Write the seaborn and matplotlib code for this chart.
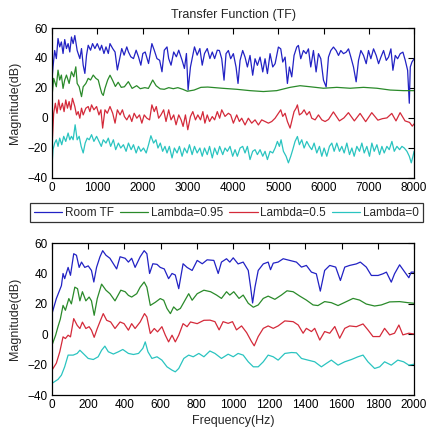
import numpy as np
import pandas as pd
import matplotlib
matplotlib.use("Agg")
import matplotlib.pyplot as plt
import seaborn as sns

# ---- data (frequency in Hz, magnitude in dB) ----
labels = ["Room TF", "Lambda=0.95", "Lambda=0.5", "Lambda=0"]

# top panel: 0 - 8000 Hz
top_room_f = [0, 22, 59, 96, 133, 170, 207, 244, 281, 319, 356, 393, 430, 467, 504, 556, 615, 652, 689, 726,
              763, 800, 852, 896, 948, 1000, 1059, 1096, 1148, 1193, 1244, 1281, 1341, 1393, 1444, 1489, 1541,
              1593, 1652, 1689, 1741, 1800, 1859, 1911, 1963, 2007, 2059, 2133, 2207, 2259, 2319, 2378, 2430,
              2481, 2541, 2578, 2630, 2689, 2748, 2800, 2874, 2926, 2970, 3007, 3059, 3096, 3148, 3207, 3267,
              3319, 3370, 3430, 3489, 3541, 3593, 3652, 3698, 3750, 3801, 3845, 3897, 3948, 4007, 4066, 4110,
              4155, 4213, 4265, 4317, 4375, 4434, 4486, 4538, 4597, 4656, 4707, 4759, 4818, 4877, 4929, 5002,
              5054, 5098, 5150, 5201, 5245, 5297, 5348, 5407, 5444, 5496, 5555, 5614, 5666, 5717, 5776, 5835,
              5887, 5939, 5998, 6057, 6108, 6160, 6219, 6278, 6330, 6381, 6440, 6499, 6551, 6603, 6661, 6720,
              6772, 6824, 6883, 6942, 6993, 7045, 7104, 7163, 7215, 7267, 7326, 7385, 7436, 7488, 7532, 7584,
              7636, 7694, 7753, 7805, 7857, 7894, 7916, 7953, 8000]
top_room_db = [25.3, 34, 45, 39.6, 53, 47.4, 50.7, 43, 52.3, 46.3, 49.6, 44, 54, 49.6, 55, 45, 39.6, 46.3, 35.2,
               29.7, 41.9, 48.5, 45.2, 49.6, 46.3, 49.6, 45.2, 48.5, 43, 47.4, 43, 49.6, 46.3, 44, 32, 38.5, 46.3,
               41.9, 47.4, 44, 40.8, 39.6, 45.2, 40.8, 35.2, 43, 44, 36.3, 49.6, 45.2, 39.6, 38.5, 30.8, 45.2,
               47.4, 39.6, 35.2, 44, 40.8, 45.2, 38.5, 33, 43, 18.6, 34, 39.6, 47.4, 41.9, 46.3, 35.2, 43, 46.3,
               39.6, 44, 39.6, 45.2, 45, 39.5, 25.2, 42.9, 45, 39.5, 42.9, 34, 23, 38.4, 45, 40.6, 34, 41.7, 28.5,
               39.5, 35.1, 40.6, 30.7, 39.5, 29.6, 42.9, 34, 36.2, 47.3, 46.1, 37.3, 40.6, 23, 34, 27.4, 41.7,
               47.3, 48.4, 39.5, 45, 42.9, 46.1, 34, 45, 30.7, 42.9, 39.5, 25.2, 20.7, 40.6, 45, 47.3, 45, 41.7,
               45, 42.9, 43.9, 46.1, 40.6, 34, 24.1, 38.4, 45, 41.7, 36.2, 45, 39.5, 46.1, 41.7, 36.2, 40.6, 45,
               38.4, 40.6, 46.1, 31.8, 41.7, 39.5, 42.9, 43.9, 38.4, 31.8, 9.8, 34, 37.3, 39.5]

top_l95_f = [0, 37, 96, 133, 170, 207, 244, 281, 319, 378, 430, 481, 526, 556, 600, 652, 689, 748, 800, 852,
             911, 970, 1022, 1059, 1100, 1133, 1170, 1230, 1282, 1340, 1400, 1462, 1530, 1600, 1687, 1770, 1870,
             1950, 2050, 2130, 2225, 2300, 2390, 2480, 2580, 2680, 2780, 2890, 2990, 3140, 3290, 3440, 3600,
             3757, 4081, 4375, 4670, 4965, 5260, 5481, 5702, 5998, 6292, 6587, 6883, 7178, 7473, 7768, 8000]
top_l95_db = [14.2, 26.4, 20.8, 31.9, 25.3, 28.6, 19.7, 25.3, 28.6, 23, 30.8, 27.5, 34.1, 23, 20.8, 14.2, 20.8,
              23, 26.4, 25.3, 28.6, 26.4, 25.3, 20.8, 16.4, 15, 19.7, 25.3, 28.5, 25, 21, 23.8, 20.4, 20.8, 24.2,
              19.7, 21.5, 19.5, 20.2, 19.7, 25.3, 21.5, 19.4, 19.1, 20.2, 19.5, 20.2, 19.1, 17.8, 18.6, 20.4,
              20.6, 20.2, 19.8, 19.1, 18.2, 17.6, 18.2, 20.4, 21.5, 20.8, 19.8, 20.4, 19.8, 20.4, 19.8, 18.6,
              18.2, 18.2]

top_l05_f = [0, 37, 74, 111, 148, 185, 230, 267, 304, 341, 378, 415, 452, 504, 541, 578, 615, 652, 689, 748,
             800, 837, 874, 926, 985, 1037, 1081, 1119, 1170, 1222, 1281, 1341, 1393, 1444, 1504, 1556, 1600,
             1652, 1711, 1763, 1815, 1874, 1933, 1985, 2037, 2096, 2156, 2207, 2259, 2304, 2356, 2407, 2467,
             2519, 2578, 2630, 2689, 2741, 2800, 2852, 2896, 2948, 3000, 3059, 3111, 3170, 3222, 3281, 3333,
             3378, 3430, 3481, 3541, 3593, 3652, 3704, 3750, 3823, 3897, 3948, 4007, 4081, 4140, 4191, 4265,
             4338, 4412, 4486, 4560, 4633, 4707, 4781, 4855, 4929, 5002, 5054, 5098, 5150, 5201, 5260, 5304,
             5348, 5393, 5422, 5466, 5518, 5570, 5629, 5688, 5739, 5813, 5887, 5961, 6034, 6110, 6217, 6350,
             6450, 6549, 6680, 6807, 6930, 7065, 7200, 7300, 7400, 7507, 7600, 7691, 7800, 7900, 7960, 8000]
top_l05_db = [-20, 3.1, 9.8, 3.1, 12, 5.4, 9.8, 4.2, 12, 6.5, 10.9, 5.4, 13.1, 7.6, 2, 4.2, -0.2, 6.5, 2, 6.5,
              7.6, 4.2, 8.7, 5.4, 7.6, 2, 5.4, -6.8, 5.4, 3.1, 7.6, 3.1, -3.5, 5.4, 2, 5.4, 0.9, -1.3, 2, -2.4,
              3.1, -0.2, 2, -3.5, 2, -0.2, -1.3, 8.7, 4.2, 7.6, -0.2, 2, 5.4, -2.4, 5.4, -1.3, 2, -4.6, 2, -1.3,
              -5.7, 2, -7.9, 0.9, 4.2, -1.3, 2, -1.3, 4.2, -3.5, 2, -2.4, 0.9, -1.3, 4.2, -0.2, 5.4, 1, 3.1, 2,
              -3.5, 2, -2.4, -0.2, -4.7, -0.2, -3.5, -1.3, -4.7, -1.3, -2.4, -3.5, -2.4, -0.2, 3.1, 5.4, 1, 3.1,
              -2.4, -6.8, -1.3, 4.2, 6.5, 8.7, 2, 3.1, 5.4, 2, 4.2, -0.2, -1.3, 2, -1.3, -2.4, -1, 4, -2, 0,
              3.5, -2, 3, -2.5, 3.5, -1.5, -0.5, 0, 3, -2, 3.5, -2, -3, -5.5, -4]

top_l0_f = [0, 22, 59, 96, 133, 170, 215, 259, 304, 356, 393, 430, 467, 511, 556, 600, 644, 689, 733, 778, 822,
            874, 926, 985, 1037, 1089, 1133, 1193, 1244, 1296, 1356, 1407, 1467, 1519, 1578, 1637, 1689, 1748,
            1800, 1859, 1911, 1963, 2022, 2081, 2133, 2185, 2244, 2296, 2341, 2393, 2444, 2496, 2541, 2593,
            2652, 2704, 2763, 2815, 2874, 2926, 2985, 3037, 3096, 3148, 3207, 3267, 3319, 3370, 3430, 3481,
            3541, 3593, 3652, 3704, 3772, 3823, 3875, 3933, 3992, 4044, 4095, 4155, 4213, 4265, 4317, 4375,
            4434, 4486, 4538, 4597, 4656, 4707, 4759, 4818, 4877, 4929, 4980, 5024, 5061, 5113, 5172, 5223,
            5275, 5319, 5370, 5422, 5466, 5518, 5570, 5629, 5688, 5739, 5791, 5850, 5909, 5961, 6012, 6071,
            6130, 6182, 6234, 6292, 6352, 6403, 6455, 6514, 6573, 6625, 6676, 6735, 6794, 6846, 6898, 6956,
            7015, 7067, 7119, 7178, 7237, 7289, 7340, 7399, 7451, 7510, 7562, 7621, 7680, 7731, 7783, 7842,
            7894, 7938, 7975, 8000]
top_l0_db = [-32.3, -21.2, -16.8, -14.6, -19, -13.5, -17.9, -12.3, -15.7, -10.1, -14.6, -12.3, -14.6, -4.6,
             -14.6, -12.3, -19, -23.4, -16.8, -13.5, -14.6, -11.2, -15.7, -12.3, -15.7, -19, -14.6, -16.8,
             -13.5, -19, -14.6, -21.2, -16.8, -20.1, -17.9, -22.3, -16.8, -21.2, -17.9, -23.4, -19, -22.3,
             -20.1, -23.4, -17.9, -11.9, -16.8, -14.6, -20.1, -16.8, -22.3, -19, -23.4, -19, -26.7, -20.1,
             -23.4, -19, -25.6, -20.1, -23.4, -17.9, -24.5, -19, -23.4, -20.1, -25.6, -20.1, -24.5, -19, -26.7,
             -20.1, -24.5, -19, -24.5, -20.1, -22.3, -19, -25.6, -21.2, -25.6, -20.1, -19, -23.4, -19, -27.8,
             -22.3, -21.2, -24.5, -21.2, -25.6, -22.3, -27.8, -22.3, -23.4, -20.1, -15.7, -19, -14.6, -22.3,
             -25.6, -30, -25.6, -21.2, -15.7, -12.4, -17.9, -14.6, -20.1, -15.7, -19, -21.2, -16.8, -23.4, -19,
             -25.6, -20.1, -25.6, -19, -16.8, -22.3, -16.8, -22.3, -19, -23.4, -16.8, -24.5, -20.1, -25.6, -19,
             -22.3, -16.8, -23.4, -19, -25.6, -16.8, -22.3, -17.9, -24.5, -19, -23.4, -19, -21.2, -15.7, -22.3,
             -19, -21.2, -19, -20.1, -22.3, -25.6, -30, -25.6, -22.3]

# bottom panel: 0 - 2000 Hz
bot_room_f = [0, 24, 52, 61, 70, 89, 102, 120, 135, 150, 163, 181, 200, 218, 231, 246, 265, 280, 298, 320, 339,
              357, 376, 404, 422, 440, 459, 487, 509, 524, 539, 557, 580, 598, 620, 644, 663, 681, 700, 724,
              746, 774, 802, 830, 857, 894, 918, 936, 964, 982, 1001, 1028, 1056, 1084, 1097, 1108, 1121, 1139,
              1167, 1194, 1207, 1222, 1249, 1277, 1313, 1350, 1378, 1405, 1433, 1460, 1482, 1506, 1534, 1567,
              1593, 1617, 1644, 1681, 1703, 1736, 1764, 1801, 1828, 1847, 1874, 1892, 1920, 1942, 1971, 1984,
              2000]
bot_room_db = [13.6, 23.5, 32, 40, 36.6, 44, 38.8, 53, 52, 44, 47.5, 44, 45, 42, 34.4, 44, 51, 55, 52, 50, 46.4,
               43, 51, 50, 47.5, 50, 44, 51, 55, 53, 40, 46.4, 46, 44, 43, 36.6, 40, 39, 30, 46.4, 44, 42, 48.6,
               46.4, 49, 48.6, 40, 47.5, 49.7, 47.5, 50.3, 46.3, 47.5, 42, 31, 20.6, 31, 42, 46.3, 47.5, 42.5,
               46.8, 47.5, 49.7, 48.6, 47.5, 44.2, 45.3, 40.9, 39.8, 28.4, 42, 45.3, 44.2, 35.4, 44.2, 45.3, 46.3,
               47.5, 44.2, 38.7, 38.7, 39.8, 40.9, 34.3, 39.8, 45.7, 42, 37.2, 40.9, 40.9]

bot_l95_f = [0, 20, 33, 46, 61, 74, 93, 107, 126, 141, 154, 168, 187, 205, 218, 233, 250, 274, 298, 320, 348,
             380, 404, 422, 440, 468, 487, 509, 524, 543, 570, 598, 617, 635, 654, 672, 691, 709, 728, 755, 774,
             802, 839, 876, 909, 936, 964, 982, 1004, 1033, 1056, 1084, 1112, 1139, 1167, 1194, 1231, 1267,
             1298, 1332, 1369, 1405, 1442, 1469, 1506, 1543, 1580, 1626, 1663, 1699, 1736, 1782, 1819, 1865,
             1920, 1966, 2000]
bot_l95_db = [-7.2, -0.6, 5, 10, 19, 15.8, 23.5, 20, 31, 30, 22, 28, 22, 24.5, 22, 12.5, 23.5, 33, 29, 26.7, 22,
              29, 28, 25.6, 24.5, 26.7, 31, 34.4, 31, 19, 21, 23.5, 22.4, 17, 13.6, 18, 15.8, 17, 21, 26.7, 22.4,
              26.7, 29, 28, 25.8, 23.6, 28, 25.8, 28, 23.6, 25.8, 20.4, 17.8, 19.3, 23.6, 25.1, 23, 25.8, 28.6,
              28, 25.1, 22.5, 19.3, 18.9, 21.5, 20.8, 18.9, 21.5, 23.6, 22.5, 19.9, 18.6, 19.3, 21.3, 21.5, 20.8,
              20.4]

bot_l05_f = [0, 24, 43, 61, 74, 89, 102, 120, 139, 154, 168, 187, 205, 218, 233, 250, 268, 283, 302, 324, 348,
             376, 398, 422, 440, 459, 487, 511, 524, 543, 565, 583, 607, 626, 644, 663, 681, 700, 724, 746, 765,
             802, 839, 873, 900, 923, 945, 973, 997, 1019, 1047, 1075, 1102, 1117, 1139, 1167, 1194, 1222, 1249,
             1286, 1332, 1360, 1387, 1405, 1433, 1451, 1479, 1506, 1534, 1562, 1589, 1617, 1644, 1681, 1718,
             1745, 1773, 1810, 1837, 1865, 1892, 1916, 1938, 1971, 2000]
bot_l05_db = [-23.6, -19, -11.5, -1.7, -2.8, -0.6, -1.7, 10.3, 5.9, 3.8, 8, 3.8, 5, 2.7, -2, 3.8, 9.2, 13.6, 9.2,
              8.1, 3.8, 8.1, 7, 2.7, 7, 3.8, 8.1, 13.6, 11.4, 0.5, 3.8, 1.6, 5, -0.6, -5, -0.6, -5, -0.6, 7, 5,
              8.1, 7, 9.2, 9.3, 8.3, 2.9, 8.3, 7.2, 8.3, 2.9, 5.5, 1.1, -4.8, -7.6, -1.5, 3.9, 5.5, 3.9, 5.5, 8.8,
              8.3, 6.1, 0.7, 3.9, 1.8, 3.9, -3.8, 1.8, 0.7, 5.1, -2.6, 3.9, 5.5, 5, 6.8, 2.9, -1.5, -1.5, 3.9,
              -0.4, 0.7, 6.1, -0.4, 0.7, 0.2]

bot_l0_f = [0, 33, 52, 70, 89, 117, 139, 154, 172, 200, 228, 255, 274, 292, 311, 339, 367, 391, 422, 450, 478,
            502, 515, 530, 552, 580, 607, 635, 663, 681, 700, 728, 755, 780, 811, 839, 872, 900, 936, 973, 1001,
            1028, 1056, 1084, 1112, 1139, 1167, 1194, 1222, 1249, 1286, 1323, 1350, 1378, 1414, 1451, 1488,
            1515, 1543, 1580, 1617, 1654, 1690, 1718, 1745, 1782, 1810, 1837, 1874, 1910, 1942, 1971, 2000]
bot_l0_db = [-32.3, -29.7, -26.9, -21.4, -13.7, -13.7, -12.6, -10.5, -12.6, -15.9, -16.6, -14.8, -10.5, -7.8,
             -11.5, -13, -11.5, -10, -12.6, -13.3, -12.6, -9.2, -5, -11.5, -15.9, -14.8, -17, -21.4, -23.6, -24.7,
             -22.5, -15.9, -13.7, -14.8, -12.6, -14.8, -11, -12.6, -15.9, -13.1, -14.8, -12.6, -13.7, -18.1,
             -21.4, -21.4, -18.1, -13.7, -14.8, -17, -12.6, -12, -12.2, -15.9, -17, -18.1, -21.4, -19.2, -17,
             -20.3, -18.1, -16.6, -14.8, -13.7, -18.1, -22.5, -21.4, -18.1, -20.3, -17, -18.1, -20.3, -19.7]

colors = ["#2222c4", "#2a8a2a", "#d42a3a", "#2ac4c0"]

sns.set_style("white")
plt.rcParams["font.family"] = ["Liberation Sans", "DejaVu Sans"]
plt.rcParams["font.size"] = 9


def draw_panel(ax, series, xmax, xstep):
    for (f, db), lab, col in zip(series, labels, colors):
        df = pd.DataFrame({"freq": f, "db": db})
        sns.lineplot(data=df, x="freq", y="db", ax=ax, color=col, lw=0.9,
                     label=lab, estimator=None, sort=False)
    ax.set_xlim(0, xmax)
    ax.set_ylim(-40, 60)
    ax.set_xticks(np.arange(0, xmax + 1, xstep))
    ax.set_yticks(np.arange(-40, 61, 20))
    ax.set_ylabel("Magnitude(dB)", fontsize=9, labelpad=5)
    ax.set_xlabel("")
    ax.tick_params(direction="in", top=True, right=True, length=4, width=0.8,
                   labelsize=8.5, colors="black", pad=3)
    for s in ax.spines.values():
        s.set_color("black")
        s.set_linewidth(0.9)
    ax.get_legend().remove()


fig = plt.figure(figsize=(4.28, 4.38), dpi=100)
ax1 = fig.add_axes([0.1215, 0.594, 0.846, 0.342])
ax2 = fig.add_axes([0.1215, 0.098, 0.846, 0.347])

draw_panel(ax1, [(top_room_f, top_room_db), (top_l95_f, top_l95_db),
                 (top_l05_f, top_l05_db), (top_l0_f, top_l0_db)], 8000, 1000)
draw_panel(ax2, [(bot_room_f, bot_room_db), (bot_l95_f, bot_l95_db),
                 (bot_l05_f, bot_l05_db), (bot_l0_f, bot_l0_db)], 2000, 200)

ax1.set_title("Transfer Function (TF)", fontsize=9, pad=7)
ax2.set_xlabel("Frequency(Hz)", fontsize=9, labelpad=3)

handles, labs = ax1.get_legend_handles_labels()
leg = fig.legend(handles, labs, loc="center", ncol=4, bbox_to_anchor=(0.529, 0.514),
                 frameon=True, fancybox=False, edgecolor="black", fontsize=8.5,
                 handlelength=2.4, handletextpad=0.25, columnspacing=0.5, borderpad=0.3,
                 borderaxespad=0.0)
leg.get_frame().set_linewidth(0.9)

fig.savefig("out.png", dpi=100)
